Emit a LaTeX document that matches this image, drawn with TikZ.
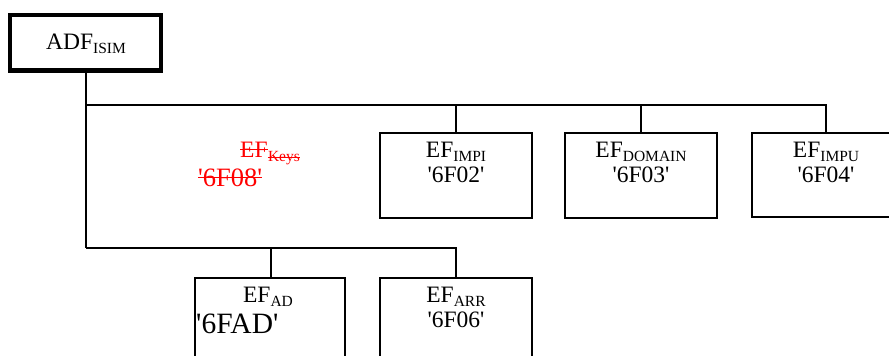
\documentclass[tikz,border=0pt]{standalone}
\usepackage{fontspec}
\setmainfont{Liberation Serif}[Ligatures=TeXOff]
\newcommand{\subtxt}[1]{\raisebox{-4pt}{\fontsize{15.5}{16}\selectfont #1}}
\definecolor{strike}{RGB}{255,0,0}
\begin{document}
\begin{tikzpicture}[x=1pt,y=-1pt,
  efbox/.style={draw=black,line width=2.5pt,rectangle,inner sep=0pt},
  conn/.style={draw=black,line width=2.5pt},
  lbl/.style={inner sep=0pt,font=\fontsize{23.5}{25}\selectfont},
  strikeline/.style={draw=strike,line width=1.3pt}
]
\clip (0,0) rectangle (889,356);
\fill[white] (0,0) rectangle (889,356);
% ADF box
\node[draw=black,line width=4.5pt,rectangle,inner sep=0pt,minimum width=151pt,minimum height=55.5pt] (adf) at (85.5,42.75) {};
\node[lbl,anchor=base] (adft) at (86,49) {ADF\subtxt{ISIM}};
% EF boxes (top row)
\node[efbox,minimum width=152pt,minimum height=85pt] (impi) at (456,175.5) {};
\node[efbox,minimum width=152pt,minimum height=85pt] (domain) at (641,175.5) {};
\node[efbox,minimum width=152pt,minimum height=84pt] (impu) at (828,175) {};
% bottom row
\node[efbox,minimum width=150pt,minimum height=122pt] (ad) at (270,339) {};
\node[efbox,minimum width=152pt,minimum height=122pt] (arr) at (456,339) {};
% labels
\node[lbl,anchor=base] (impit) at (456,157) {EF\subtxt{IMPI}};
\node[lbl,anchor=base] (impin) at (456,182) {'6F02'};
\node[lbl,anchor=base] (domt) at (641,157) {EF\subtxt{DOMAIN}};
\node[lbl,anchor=base] (domn) at (641,182) {'6F03'};
\node[lbl,anchor=base] (imput) at (826,157) {EF\subtxt{IMPU}};
\node[lbl,anchor=base] (impun) at (826,182) {'6F04'};
\node[lbl,anchor=base] (adt) at (268,302) {EF\subtxt{AD}};
\node[inner sep=0pt,anchor=base west,font=\fontsize{29.5}{31}\selectfont] (adn) at (196,333) {'6FAD'};
\node[lbl,anchor=base] (arrt) at (456,302) {EF\subtxt{ARR}};
\node[lbl,anchor=base] (arrn) at (456,327) {'6F06'};
% struck-out red entry
\node[lbl,anchor=base west,text=strike] (keysef) at (240,157) {EF};
\node[inner sep=0pt,anchor=base west,text=strike,font=\fontsize{15.5}{16}\selectfont] (keyssub) at ([yshift=-4pt]keysef.base east) {Keys};
\node[inner sep=0pt,anchor=base west,text=strike,font=\fontsize{26.5}{28}\selectfont] (keysn) at (198,186) {'6F08'};
\draw[strikeline] (keysef.west) -- (keysef.east);
\draw[strikeline] (keyssub.west) -- (keyssub.east);
\draw[strikeline] (keysn.west) -- (keysn.east);
% connectors
\coordinate (j1) at (86,105);
\coordinate (j2) at (86,248);
\draw[conn] (adf.south -| j1) -- (j2);
\draw[conn] (j1) -| (impu.north -| 826,0);
\draw[conn] (j1 -| impi.north) -- (impi.north);
\draw[conn] (j1 -| domain.north) -- (domain.north);
\draw[conn] (j2) -| (arr.north);
\draw[conn] (j2 -| 271,0) -- (ad.north -| 271,0);
\end{tikzpicture}
\end{document}
